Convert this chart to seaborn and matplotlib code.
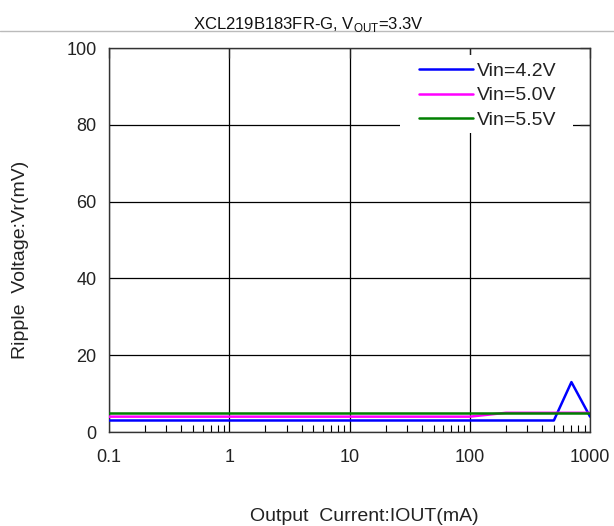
import pandas as pd
import matplotlib
matplotlib.use('Agg')
import matplotlib.pyplot as plt
from matplotlib.lines import Line2D
from matplotlib.patches import Rectangle
from matplotlib.ticker import LogLocator, NullFormatter
import seaborn as sns

# values
vin_42_current = [0.1, 500, 700, 1000]
vin_42_ripple = [3, 3, 13, 4]
vin_50_current = [0.1, 100, 200, 1000]
vin_50_ripple = [4, 4, 5, 5]
vin_55_current = [0.1, 1000]
vin_55_ripple = [5, 5]

series_names = ['Vin=4.2V', 'Vin=5.0V', 'Vin=5.5V']
series_colors = ['#0000FF', '#FF00FF', '#008000']
x_ticks = [0.1, 1, 10, 100, 1000]
x_ticklabels = ['0.1', '1', '10', '100', '1000']
y_ticks = [0, 20, 40, 60, 80, 100]

frames = []
for name, xs, ys in zip(series_names,
                        [vin_42_current, vin_50_current, vin_55_current],
                        [vin_42_ripple, vin_50_ripple, vin_55_ripple]):
    frames.append(pd.DataFrame({'current': xs, 'ripple': ys, 'series': name}))
df = pd.concat(frames, ignore_index=True)

sns.set_style('white')
plt.rcParams['font.family'] = ['Liberation Sans', 'DejaVu Sans']
plt.rcParams['mathtext.fontset'] = 'custom'
plt.rcParams['mathtext.rm'] = 'Liberation Sans'

fig = plt.figure(figsize=(6.14, 5.26), dpi=100)
ax = fig.add_axes([0.1775, 0.1787, 0.7835, 0.730])

sns.lineplot(data=df, x='current', y='ripple', hue='series',
             palette=dict(zip(series_names, series_colors)),
             linewidth=1.8, sort=False, estimator=None, ax=ax, zorder=3)

ax.set_xscale('log')
ax.set_xlim(0.1, 1000)
ax.set_ylim(0, 100)
ax.set_xticks(x_ticks)
ax.set_xticklabels(x_ticklabels)
ax.set_yticks(y_ticks)
ax.xaxis.set_minor_locator(LogLocator(base=10, subs=range(2, 10)))
ax.xaxis.set_minor_formatter(NullFormatter())
ax.grid(True, which='major', color='black', linewidth=0.9)
ax.tick_params(axis='both', which='major', direction='in', top=True, right=True,
               labelsize=13, colors='#222222', pad=9, length=7, width=0.9)
ax.tick_params(axis='x', which='minor', direction='in', bottom=True, top=False,
               length=5, width=0.8, color='black')
ax.tick_params(axis='x', which='major', pad=12)
for sp in ax.spines.values():
    sp.set_color('#333333')
    sp.set_linewidth(1.0)

ax.set_xlabel('')
ax.set_ylabel('')

# white box behind the legend hides the grid there
ax.add_patch(Rectangle((0.605, 0.779), 0.36, 0.203, transform=ax.transAxes,
                       facecolor='white', edgecolor='none', zorder=1))
leg = ax.legend(loc='upper left', bbox_to_anchor=(0.6445, 0.963), frameon=False,
                fontsize=14, handlelength=2.8, handletextpad=0.2,
                labelspacing=0.36, borderpad=0, borderaxespad=0)
leg.set_zorder(5)
for t in leg.get_texts():
    t.set_color('#222222')

fig.text(0.502, 0.953, r'XCL219B183FR-G, V$_{\mathregular{OUT}}$=3.3V',
         ha='center', va='center', fontsize=12, color='#111111')
fig.add_artist(Line2D([0, 1], [0.941, 0.941], color='#BBBBBB', linewidth=1.0))
fig.text(0.594, 0.018, 'Output  Current:IOUT(mA)', ha='center', va='center',
         fontsize=14, color='#222222')
fig.text(0.033, 0.506, 'Ripple  Voltage:Vr(mV)', ha='center', va='center',
         rotation=90, fontsize=14, color='#222222')

fig.savefig('out.png', dpi=100)
